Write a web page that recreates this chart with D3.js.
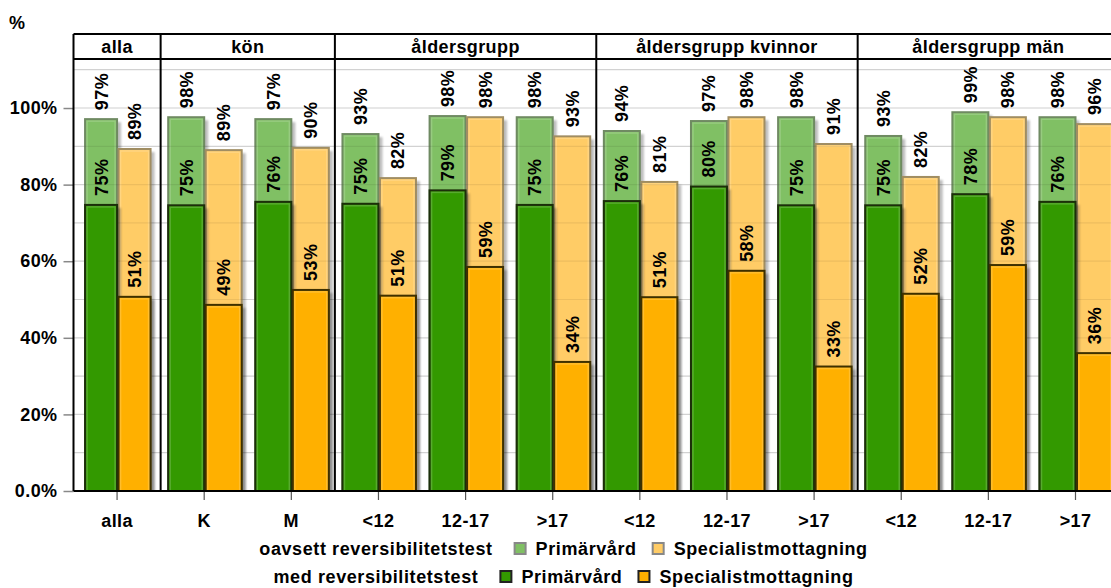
<!DOCTYPE html>
<html><head><meta charset="utf-8">
<script src="https://cdn.jsdelivr.net/npm/d3@7"></script>
<style>
body{margin:0;background:#fff}
text{font-family:"Liberation Sans",Arial,sans-serif;font-weight:bold;fill:#000;letter-spacing:0.4px}
</style>
</head><body>
<svg id="c" width="1111" height="588"></svg>
<script>
// ---- data ----
const panels = ["alla", "kön", "åldersgrupp", "åldersgrupp kvinnor", "åldersgrupp män"];
const panelOf = [0, 1, 1, 2, 2, 2, 3, 3, 3, 4, 4, 4];
const categories = ["alla", "K", "M", "<12", "12-17", ">17", "<12", "12-17", ">17", "<12", "12-17", ">17"];
const primOavsett = [97.1, 97.6, 97.1, 93.2, 97.9, 97.6, 94.0, 96.6, 97.6, 92.7, 98.9, 97.6];
const specOavsett = [89.3, 89.0, 89.6, 81.7, 97.6, 92.6, 80.7, 97.6, 90.6, 82.0, 97.6, 95.8];
const primMed = [74.7, 74.6, 75.5, 75.0, 78.5, 74.7, 75.7, 79.5, 74.6, 74.6, 77.5, 75.5];
const specMed = [50.7, 48.6, 52.5, 51.0, 58.5, 33.7, 50.6, 57.5, 32.5, 51.5, 59.0, 36.0];
const yTicks = [0, 20, 40, 60, 80, 100];
const legendRows = ["oavsett reversibilitetstest", "med reversibilitetstest"];
const legendItems = ["Primärvård", "Specialistmottagning"];

// ---- layout ----
const svg = d3.select("#c");
const left = 73.5, band = 87.13, n = categories.length;
const plotTop = 59, headTop = 34, base = 491;
const x = d3.scaleBand().domain(d3.range(n)).range([left, left + band * n]).padding(0);
const y = d3.scaleLinear().domain([0, 112.8]).range([base, plotTop]);
const cx = i => x(i) + x.bandwidth() / 2;
const bw = i => panelOf[i] === 0 ? 32 : 36;

const col = {
  lg: {fill: "#80c064", stroke: "#6f8a62"},
  lo: {fill: "#ffcc66", stroke: "#a08d62"},
  dg: {fill: "#339900", stroke: "#1c2e0a"},
  do: {fill: "#ffb000", stroke: "#3d3000"}
};

const defs = svg.append("defs");
defs.append("filter").attr("id", "blur").attr("x", "-20%").attr("y", "-5%").attr("width", "140%").attr("height", "110%")
  .append("feGaussianBlur").attr("stdDeviation", 1.3);
defs.append("clipPath").attr("id", "plotclip").append("rect")
  .attr("x", left).attr("y", plotTop).attr("width", band * n).attr("height", base - plotTop);

// gridlines (every 10%)
const gridVals = d3.range(10, 111, 10);
const grid = svg.append("g");
grid.selectAll("line").data(gridVals).join("line")
  .attr("x1", left).attr("x2", left + band * n)
  .attr("y1", d => y(d)).attr("y2", d => y(d))
  .attr("stroke", "#e2e2e2").attr("stroke-width", 1.2);

const plot = svg.append("g").attr("clip-path", "url(#plotclip)");

function bars(vals, xoff, c, cls) {
  const g = plot.append("g").attr("class", cls);
  g.selectAll("rect.sh").data(vals).join("rect").attr("class", "sh")
    .attr("x", (d, i) => cx(i) + xoff(i) + 4).attr("y", d => y(d) + 3)
    .attr("width", (d, i) => bw(i)).attr("height", d => base - y(d))
    .attr("fill", "#000").attr("opacity", 0.26).attr("filter", "url(#blur)");
  g.selectAll("rect.b").data(vals).join("rect").attr("class", "b")
    .attr("x", (d, i) => cx(i) + xoff(i)).attr("y", d => y(d))
    .attr("width", (d, i) => bw(i)).attr("height", d => base - y(d))
    .attr("fill", c.fill).attr("stroke", c.stroke).attr("stroke-width", 2);
  g.selectAll("rect.hl").data(vals).join("rect").attr("class", "hl")
    .attr("x", (d, i) => cx(i) + xoff(i) + 2).attr("y", d => y(d) + 2)
    .attr("width", (d, i) => bw(i) - 4).attr("height", d => Math.max(0, base - y(d) - 2))
    .attr("fill", "none").attr("stroke", "#fff").attr("stroke-opacity", 0.18).attr("stroke-width", 1.5);
}
const gx = i => -bw(i);
const ox = i => 1.5;
bars(primOavsett, gx, col.lg, "lg");
bars(specOavsett, ox, col.lo, "lo");
// faint gridlines over light bars
plot.append("g").selectAll("line").data(gridVals).join("line")
  .attr("x1", left).attr("x2", left + band * n)
  .attr("y1", d => y(d)).attr("y2", d => y(d))
  .attr("stroke", "#000").attr("stroke-opacity", 0.07).attr("stroke-width", 1.2);
bars(primMed, gx, col.dg, "dg");
bars(specMed, ox, col.do, "do");

// value labels
function labels(vals, xoff) {
  svg.append("g").selectAll("text").data(vals).join("text")
    .attr("transform", (d, i) => `translate(${cx(i) + xoff(i) + bw(i) / 2},${y(d) - 9}) rotate(-90)`)
    .attr("dy", "0.36em").attr("font-size", 18)
    .text(d => Math.round(d) + "%");
}
labels(primOavsett, gx);
labels(specOavsett, ox);
labels(primMed, gx);
labels(specMed, ox);

// y axis
const ya = svg.append("g").attr("transform", `translate(${left},0)`)
  .call(d3.axisLeft(y).tickValues(yTicks).tickFormat(d => d === 0 ? "0.0%" : d + "%").tickSize(10).tickPadding(6));
ya.select(".domain").remove();
ya.selectAll(".tick line").attr("stroke", "#888").attr("stroke-width", 1.5);
ya.selectAll(".tick text").attr("font-size", 18).attr("font-family", null).attr("fill", "#000");

// x axis
const xa = svg.append("g").attr("transform", `translate(0,${base})`)
  .call(d3.axisBottom(x).tickFormat(i => categories[i]).tickSize(9).tickPadding(14));
xa.select(".domain").remove();
xa.selectAll(".tick line").attr("stroke", "#555").attr("stroke-width", 1.2);
xa.selectAll(".tick text").attr("font-size", 18).attr("font-family", null).attr("fill", "#000");

// frame and panel headers
const frame = svg.append("g").attr("stroke", "#000").attr("stroke-width", 2);
const right = left + band * n;
frame.append("line").attr("x1", left).attr("x2", right).attr("y1", headTop).attr("y2", headTop);
frame.append("line").attr("x1", left).attr("x2", right).attr("y1", plotTop).attr("y2", plotTop);
frame.append("line").attr("x1", left).attr("x2", right).attr("y1", base).attr("y2", base);
const spans = panels.map((p, k) => {
  const idx = d3.range(n).filter(i => panelOf[i] === k);
  return {name: p, x0: x(idx[0]), x1: x(idx[idx.length - 1]) + x.bandwidth()};
});
frame.selectAll("line.sep").data(spans).join("line").attr("class", "sep")
  .attr("x1", d => d.x0).attr("x2", d => d.x0).attr("y1", headTop).attr("y2", base);
frame.append("line").attr("x1", right).attr("x2", right).attr("y1", headTop).attr("y2", base);
svg.append("g").selectAll("text").data(spans).join("text")
  .attr("x", d => (d.x0 + d.x1) / 2).attr("y", 53).attr("text-anchor", "middle").attr("font-size", 18)
  .text(d => d.name);

// y title
svg.append("text").attr("x", 9).attr("y", 29).attr("font-size", 18).text("%");

// legend
const legCols = [[col.lg, col.lo], [col.dg, col.do]];
const legY = [555, 583];
legendRows.forEach((r, k) => {
  const g = svg.append("g");
  let cur = 0;
  const t0 = g.append("text").attr("x", cur).attr("y", legY[k]).attr("font-size", 18).style("letter-spacing", "0.6px").text(r);
  cur += t0.node().getComputedTextLength() + 22;
  legendItems.forEach((it, j) => {
    const c = legCols[k][j];
    g.append("rect").attr("x", cur).attr("y", legY[k] - 12).attr("width", 11).attr("height", 11)
      .attr("fill", c.fill).attr("stroke", k === 0 ? "#888" : "#222").attr("stroke-width", 2);
    cur += 11 + 10;
    const t = g.append("text").attr("x", cur).attr("y", legY[k]).attr("font-size", 18).style("letter-spacing", "0.6px").text(it);
    cur += t.node().getComputedTextLength() + (j === 0 ? 16 : 0);
  });
  g.attr("transform", `translate(${563.5 - cur / 2},0)`);
});
</script>
</body></html>
